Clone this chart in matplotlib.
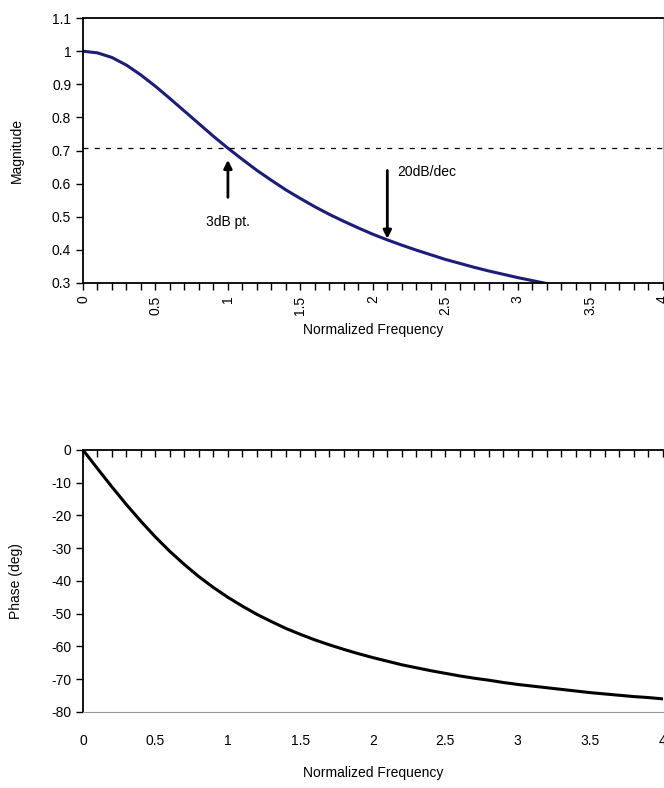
import matplotlib.pyplot as plt
from matplotlib.ticker import MultipleLocator

plt.rcParams['font.family'] = ['Liberation Sans', 'DejaVu Sans']
plt.rcParams['axes.unicode_minus'] = False

# values
freq_mag = [0.0, 0.1, 0.2, 0.3, 0.4, 0.5, 0.6, 0.7, 0.8, 0.9, 1.0, 1.1, 1.2, 1.3,
            1.4, 1.5, 1.6, 1.7, 1.8, 1.9, 2.0, 2.1, 2.2, 2.3, 2.4, 2.5, 2.6, 2.7,
            2.8, 2.9, 3.0, 3.1, 3.2]
magnitude = [1.000, 0.995, 0.981, 0.958, 0.928, 0.894, 0.857, 0.819, 0.781, 0.743,
             0.707, 0.673, 0.640, 0.610, 0.581, 0.555, 0.530, 0.507, 0.486, 0.466,
             0.447, 0.430, 0.414, 0.399, 0.385, 0.371, 0.359, 0.347, 0.336, 0.326,
             0.316, 0.307, 0.298]

freq_ph = [0.0, 0.1, 0.2, 0.3, 0.4, 0.5, 0.6, 0.7, 0.8, 0.9, 1.0, 1.1, 1.2, 1.3,
           1.4, 1.5, 1.6, 1.7, 1.8, 1.9, 2.0, 2.1, 2.2, 2.3, 2.4, 2.5, 2.6, 2.7,
           2.8, 2.9, 3.0, 3.1, 3.2, 3.3, 3.4, 3.5, 3.6, 3.7, 3.8, 3.9, 4.0]
phase = [0.0, -5.7, -11.3, -16.7, -21.8, -26.6, -31.0, -35.0, -38.7, -42.0,
         -45.0, -47.7, -50.2, -52.4, -54.5, -56.3, -58.0, -59.5, -60.9, -62.2,
         -63.4, -64.5, -65.6, -66.5, -67.4, -68.2, -69.0, -69.7, -70.3, -71.0,
         -71.6, -72.1, -72.6, -73.1, -73.6, -74.1, -74.5, -74.9, -75.3, -75.6,
         -76.0]

cutoff_level = 0.707
xticks = [0, 0.5, 1, 1.5, 2, 2.5, 3, 3.5, 4]
xtick_labels = ['0', '0.5', '1', '1.5', '2', '2.5', '3', '3.5', '4']

fs = 10
fig = plt.figure(figsize=(6.64, 7.88), dpi=100)

# magnitude plot
ax1 = fig.add_axes([0.125, 0.641, 0.873, 0.336])
ax1.plot(freq_mag, magnitude, color='#1c1c7a', lw=2.2)
ax1.axhline(cutoff_level, color='black', lw=0.9, ls=(0, (4, 5)))
ax1.set_xlim(0, 4)
ax1.set_ylim(0.3, 1.1)
ax1.set_yticks([0.3, 0.4, 0.5, 0.6, 0.7, 0.8, 0.9, 1.0, 1.1])
ax1.set_yticklabels(['0.3', '0.4', '0.5', '0.6', '0.7', '0.8', '0.9', '1', '1.1'])
ax1.set_xticks(xticks)
ax1.set_xticklabels(xtick_labels, rotation=90)
ax1.xaxis.set_minor_locator(MultipleLocator(0.1))
ax1.tick_params(axis='both', which='major', length=5, width=1, labelsize=fs, direction='out')
ax1.tick_params(axis='x', which='major', pad=4)
ax1.tick_params(axis='x', which='minor', length=5, width=1, direction='out')
ax1.set_ylabel('Magnitude', fontsize=fs, labelpad=20)
ax1.set_xlabel('Normalized Frequency', fontsize=fs, labelpad=6)
for side in ['left', 'bottom', 'top']:
    ax1.spines[side].set_linewidth(1.3)
ax1.spines['right'].set_color('#bbbbbb')

ax1.annotate('', xy=(1.0, 0.68), xytext=(1.0, 0.55),
             arrowprops=dict(arrowstyle='-|>', color='black', lw=2, mutation_scale=12))
ax1.text(1.0, 0.485, '3dB pt.', fontsize=fs, ha='center', va='center')
ax1.annotate('', xy=(2.1, 0.425), xytext=(2.1, 0.648),
             arrowprops=dict(arrowstyle='-|>', color='black', lw=2, mutation_scale=12))
ax1.text(2.17, 0.635, '20dB/dec', fontsize=fs, ha='left', va='center')

# phase plot
ax2 = fig.add_axes([0.125, 0.0965, 0.873, 0.3325])
ax2.plot(freq_ph, phase, color='black', lw=2.2)
ax2.set_xlim(0, 4)
ax2.set_ylim(-80, 0)
ax2.set_yticks(range(-80, 1, 10))
ax2.set_xticks(xticks)
ax2.set_xticklabels(xtick_labels)
ax2.xaxis.set_minor_locator(MultipleLocator(0.1))
ax2.tick_params(axis='x', which='both', bottom=False, top=True, labelbottom=True,
                labeltop=False, direction='in', length=5, width=1)
ax2.tick_params(axis='x', which='major', labelsize=fs, pad=16)
ax2.tick_params(axis='y', length=5, width=1, labelsize=fs, direction='out')
ax2.set_ylabel('Phase (deg)', fontsize=fs, labelpad=20)
ax2.set_xlabel('Normalized Frequency', fontsize=fs, labelpad=13)
ax2.spines['left'].set_linewidth(1.3)
ax2.spines['top'].set_linewidth(1.3)
ax2.spines['bottom'].set_color('#999999')
ax2.spines['right'].set_visible(False)

fig.savefig('out.png', dpi=100)
